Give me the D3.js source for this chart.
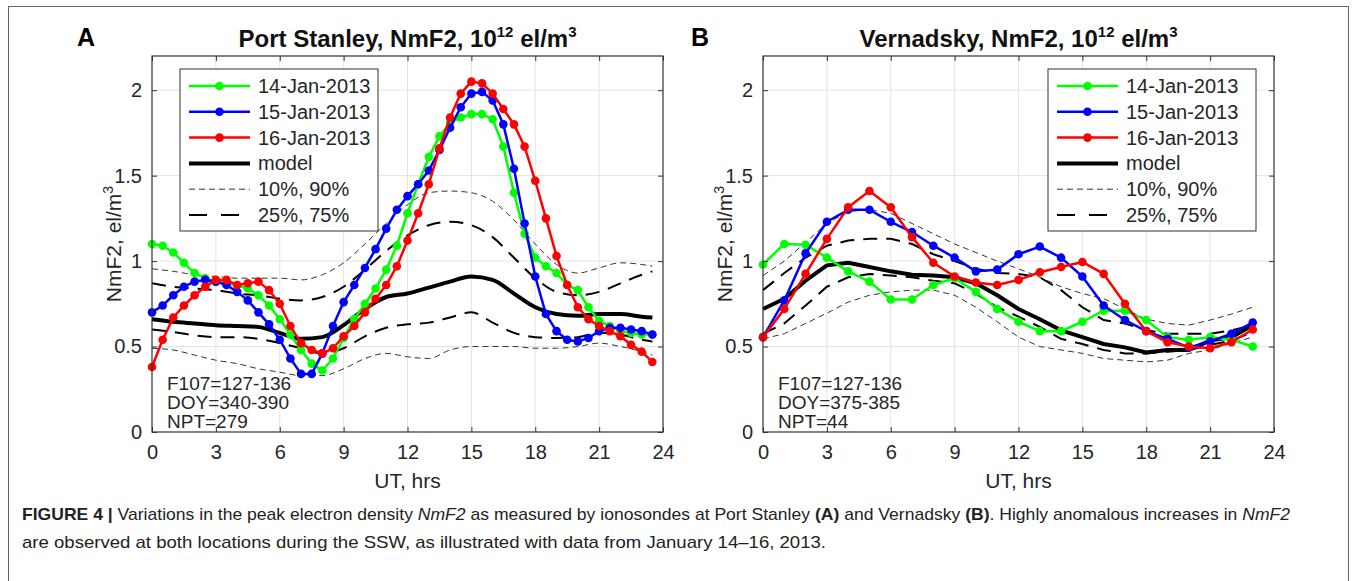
<!DOCTYPE html>
<html><head><meta charset="utf-8">
<script src="https://cdn.jsdelivr.net/npm/d3@7"></script>
<style>body{margin:0;background:#fff}svg{display:block}</style>
</head><body><svg id="c" width="1354" height="581"></svg>
<script>
// ---------------- DATA ----------------
const xTicks = [0,3,6,9,12,15,18,21,24];
const xTickLabels = ["0","3","6","9","12","15","18","21","24"];
const yTicks = [0,0.5,1,1.5,2];
const yTickLabels = ["0","0.5","1","1.5","2"];
const legendLabels = ["14-Jan-2013","15-Jan-2013","16-Jan-2013","model","10%, 90%","25%, 75%"];

// Port Stanley (A): half-hourly UT
const hoursA = [0,0.5,1,1.5,2,2.5,3,3.5,4,4.5,5,5.5,6,6.5,7,7.5,8,8.5,9,9.5,10,10.5,11,11.5,12,12.5,13,13.5,14,14.5,15,15.5,16,16.5,17,17.5,18,18.5,19,19.5,20,20.5,21,21.5,22,22.5,23,23.5];
const jan14A = [1.10,1.09,1.05,0.99,0.93,0.90,0.88,0.87,0.86,0.84,0.80,0.74,0.66,0.57,0.48,0.40,0.36,0.43,0.55,0.66,0.75,0.84,0.95,1.09,1.28,1.45,1.61,1.73,1.81,1.84,1.86,1.86,1.83,1.67,1.40,1.16,1.02,0.97,0.93,0.86,0.83,0.73,0.65,0.62,0.59,0.58,0.57,0.57];
const jan15A = [0.70,0.74,0.80,0.85,0.88,0.89,0.88,0.86,0.82,0.77,0.70,0.63,0.54,0.43,0.34,0.34,0.46,0.62,0.76,0.86,0.96,1.07,1.19,1.30,1.38,1.45,1.53,1.65,1.78,1.90,1.98,1.99,1.94,1.80,1.54,1.22,0.91,0.69,0.59,0.54,0.53,0.55,0.59,0.61,0.61,0.60,0.59,0.57];
const jan16A = [0.38,0.54,0.67,0.74,0.80,0.85,0.89,0.89,0.86,0.87,0.88,0.83,0.75,0.62,0.52,0.48,0.46,0.49,0.56,0.62,0.70,0.78,0.86,0.97,1.12,1.28,1.45,1.66,1.84,1.98,2.05,2.04,1.98,1.89,1.80,1.67,1.47,1.25,1.03,0.86,0.73,0.66,0.62,0.59,0.56,0.51,0.47,0.41];
// Port Stanley model & percentiles: hourly UT
const hoursModelA = [0,1,2,3,4,5,6,7,8,9,10,11,12,13,14,15,16,17,18,19,20,21,22,23,23.5];
const modelA = [0.66,0.645,0.635,0.625,0.62,0.615,0.58,0.545,0.555,0.625,0.72,0.79,0.81,0.845,0.88,0.91,0.89,0.81,0.73,0.69,0.68,0.69,0.69,0.675,0.67];
const p10A = [0.49,0.48,0.45,0.42,0.40,0.37,0.35,0.33,0.33,0.37,0.43,0.46,0.44,0.43,0.48,0.50,0.50,0.50,0.49,0.49,0.50,0.52,0.50,0.47,0.45];
const p90A = [0.955,0.94,0.92,0.91,0.90,0.90,0.90,0.89,0.92,0.99,1.10,1.22,1.33,1.40,1.41,1.40,1.35,1.24,1.10,0.98,0.93,0.96,0.99,0.98,0.97];
const p25A = [0.60,0.585,0.565,0.555,0.555,0.545,0.52,0.49,0.46,0.49,0.56,0.61,0.63,0.64,0.67,0.70,0.64,0.58,0.555,0.55,0.555,0.58,0.57,0.54,0.53];
const p75A = [0.87,0.85,0.84,0.83,0.81,0.80,0.78,0.77,0.79,0.85,0.95,1.06,1.15,1.21,1.23,1.21,1.14,1.02,0.90,0.82,0.80,0.82,0.87,0.92,0.94];

// Vernadsky (B): hourly UT
const hoursB = [0,1,2,3,4,5,6,7,8,9,10,11,12,13,14,15,16,17,18,19,20,21,22,23];
const jan14B = [0.98,1.10,1.095,1.02,0.94,0.88,0.775,0.775,0.86,0.90,0.82,0.72,0.645,0.59,0.59,0.645,0.71,0.71,0.655,0.555,0.54,0.555,0.54,0.50];
const jan15B = [0.555,0.77,1.045,1.23,1.30,1.30,1.23,1.17,1.09,1.02,0.94,0.95,1.04,1.085,1.02,0.91,0.74,0.655,0.59,0.545,0.495,0.53,0.575,0.64];
const jan16B = [0.555,0.72,0.925,1.13,1.315,1.41,1.315,1.14,0.99,0.91,0.875,0.86,0.89,0.935,0.965,0.995,0.925,0.75,0.59,0.525,0.50,0.49,0.525,0.60];
const modelB = [0.72,0.78,0.885,0.975,0.99,0.965,0.94,0.92,0.915,0.905,0.87,0.80,0.72,0.66,0.595,0.555,0.515,0.495,0.465,0.48,0.48,0.535,0.555,0.625];
const p10B = [0.545,0.575,0.635,0.695,0.76,0.80,0.82,0.83,0.83,0.80,0.73,0.645,0.555,0.50,0.48,0.46,0.43,0.42,0.41,0.42,0.46,0.48,0.52,0.555];
const p90B = [0.915,1.0,1.11,1.22,1.29,1.30,1.28,1.22,1.16,1.10,1.05,1.0,0.955,0.905,0.85,0.81,0.78,0.72,0.66,0.635,0.625,0.655,0.69,0.73];
const p25B = [0.575,0.635,0.74,0.85,0.905,0.925,0.915,0.905,0.885,0.87,0.81,0.73,0.675,0.615,0.545,0.515,0.48,0.46,0.46,0.47,0.48,0.51,0.535,0.585];
const p75B = [0.83,0.93,1.02,1.09,1.12,1.13,1.13,1.10,1.04,1.0,0.955,0.93,0.925,0.905,0.83,0.73,0.655,0.635,0.595,0.575,0.575,0.575,0.595,0.625];

const annotA = ["F107=127-136","DOY=340-390","NPT=279"];
const annotB = ["F107=127-136","DOY=375-385","NPT=44"];

// ---------------- DRAW ----------------
const svg = d3.select("#c");
const FONT = "'Liberation Sans', Arial, Helvetica, sans-serif";
const TXT = "#262626";
const dayColors = ["#00ff00","#0000ff","#ff0000"];

// figure frame
svg.append("rect").attr("x",8.5).attr("y",6.5).attr("width",1340).attr("height",600)
  .attr("fill","none").attr("stroke","#666").attr("stroke-width",1);

function zip(xs, ys){ return xs.map((x,i)=>({x:x, y:ys[i]})); }

function drawPanel(cfg){
  const x = d3.scaleLinear().domain([0,24]).range([cfg.left, cfg.right]);
  const y = d3.scaleLinear().domain([0,2.2]).range([cfg.bottom, cfg.top]);
  const g = svg.append("g");

  // grid
  g.append("g").selectAll("line").data(xTicks.slice(1,-1)).join("line")
    .attr("x1",d=>x(d)).attr("x2",d=>x(d)).attr("y1",cfg.top).attr("y2",cfg.bottom)
    .attr("stroke","#e3e3e3").attr("stroke-width",1);
  g.append("g").selectAll("line").data(yTicks.slice(1)).join("line")
    .attr("y1",d=>y(d)).attr("y2",d=>y(d)).attr("x1",cfg.left).attr("x2",cfg.right)
    .attr("stroke","#e3e3e3").attr("stroke-width",1);

  const smooth = d3.line().x(d=>x(d.x)).y(d=>y(d.y)).curve(cfg.curve);
  const straight = d3.line().x(d=>x(d.x)).y(d=>y(d.y));

  // percentiles
  [cfg.p10, cfg.p90].forEach(s=>{
    g.append("path").attr("d", smooth(zip(cfg.hoursModel, s))).attr("fill","none")
      .attr("stroke","#333").attr("stroke-width",1).attr("stroke-dasharray","6,4");
  });
  [cfg.p25, cfg.p75].forEach(s=>{
    g.append("path").attr("d", smooth(zip(cfg.hoursModel, s))).attr("fill","none")
      .attr("stroke","#000").attr("stroke-width",2).attr("stroke-dasharray","14,9");
  });
  // model
  g.append("path").attr("d", smooth(zip(cfg.hoursModel, cfg.model))).attr("fill","none")
    .attr("stroke","#000").attr("stroke-width",4).attr("stroke-linejoin","round");

  // day series
  cfg.days.forEach((s,i)=>{
    const pts = zip(cfg.hours, s);
    g.append("path").attr("d", straight(pts)).attr("fill","none")
      .attr("stroke",dayColors[i]).attr("stroke-width",2.5).attr("stroke-linejoin","round");
    g.append("g").selectAll("circle").data(pts).join("circle")
      .attr("cx",d=>x(d.x)).attr("cy",d=>y(d.y)).attr("r",4.3).attr("fill",dayColors[i]);
  });

  // axes
  const ax = g.append("g").attr("font-family",FONT);
  const bottomAxis = d3.axisBottom(x).tickValues(xTicks).tickFormat((d,i)=>xTickLabels[i]).tickSize(-5).tickPadding(13);
  const topAxis = d3.axisTop(x).tickValues(xTicks).tickFormat("").tickSize(-5);
  const leftAxis = d3.axisLeft(y).tickValues(yTicks).tickFormat((d,i)=>yTickLabels[i]).tickSize(-5).tickPadding(10);
  const rightAxis = d3.axisRight(y).tickValues(yTicks).tickFormat("").tickSize(-5);
  [ [bottomAxis,`translate(0,${cfg.bottom})`], [topAxis,`translate(0,${cfg.top})`],
    [leftAxis,`translate(${cfg.left},0)`], [rightAxis,`translate(${cfg.right},0)`] ].forEach(([a,t])=>{
    const s = ax.append("g").attr("transform",t).call(a);
    s.select(".domain").remove();
    s.selectAll(".tick line").attr("stroke","#333");
    s.selectAll(".tick text").attr("fill",TXT).attr("font-size",20).attr("font-family",FONT);
  });
  g.append("rect").attr("x",cfg.left).attr("y",cfg.top).attr("width",cfg.right-cfg.left)
    .attr("height",cfg.bottom-cfg.top).attr("fill","none").attr("stroke","#333").attr("stroke-width",1.2);

  // axis labels
  const cx = (cfg.left+cfg.right)/2;
  g.append("text").attr("x",cx).attr("y",cfg.bottom+56).attr("text-anchor","middle")
    .attr("font-family",FONT).attr("font-size",21).attr("fill",TXT).text("UT, hrs");
  const yl = g.append("text").attr("transform",`translate(${cfg.left-31},${(cfg.top+cfg.bottom)/2}) rotate(-90)`)
    .attr("text-anchor","middle").attr("font-family",FONT).attr("font-size",21).attr("fill",TXT);
  yl.append("tspan").text("NmF2, el/m");
  yl.append("tspan").attr("dy",-8).attr("font-size",14).text("3");

  // title
  const tt = g.append("text").attr("x",cx).attr("y",cfg.top-9).attr("text-anchor","middle")
    .attr("font-family",FONT).attr("font-size",24).attr("font-weight","bold").attr("fill","#111");
  tt.append("tspan").text(cfg.title);
  tt.append("tspan").attr("dy",-10).attr("font-size",15).text("12");
  tt.append("tspan").attr("dy",10).text(" el/m");
  tt.append("tspan").attr("dy",-10).attr("font-size",15).text("3");

  // panel letter
  g.append("text").attr("x",cfg.letterX).attr("y",46).attr("font-family",FONT)
    .attr("font-size",25).attr("font-weight","bold").attr("fill","#000").text(cfg.letter);

  // annotation
  cfg.annot.forEach((t,i)=>{
    g.append("text").attr("x",cfg.left+15).attr("y",cfg.bottom-42+i*19)
      .attr("font-family",FONT).attr("font-size",19).attr("fill",TXT).text(t);
  });

  // legend
  const lx = cfg.legendX, ly = cfg.top+13, lw = cfg.legendW, lh = 162;
  const lg = g.append("g");
  lg.append("rect").attr("x",lx).attr("y",ly).attr("width",lw).attr("height",lh)
    .attr("fill","#fff").attr("stroke","#333").attr("stroke-width",1);
  legendLabels.forEach((lab,i)=>{
    const ry = ly + 17 + i*25.8;
    const x1 = lx+9, x2 = lx+70;
    const ln = lg.append("line").attr("x1",x1).attr("x2",x2).attr("y1",ry).attr("y2",ry);
    if(i<3){
      ln.attr("stroke",dayColors[i]).attr("stroke-width",2.5);
      lg.append("circle").attr("cx",(x1+x2)/2).attr("cy",ry).attr("r",4.3).attr("fill",dayColors[i]);
    } else if(i===3){
      ln.attr("stroke","#000").attr("stroke-width",4);
    } else if(i===4){
      ln.attr("stroke","#333").attr("stroke-width",1).attr("stroke-dasharray","6,4");
    } else {
      ln.attr("stroke","#000").attr("stroke-width",2).attr("stroke-dasharray","18,14");
    }
    lg.append("text").attr("x",lx+78).attr("y",ry+7).attr("font-family",FONT)
      .attr("font-size",20).attr("fill",TXT).text(lab);
  });
}

drawPanel({left:152,right:663,top:56,bottom:432,title:"Port Stanley, NmF2, 10",letter:"A",letterX:77,
  hours:hoursA, days:[jan14A,jan15A,jan16A], hoursModel:hoursModelA, model:modelA,
  p10:p10A,p90:p90A,p25:p25A,p75:p75A, annot:annotA, legendX:180, legendW:198, curve:d3.curveMonotoneX});
drawPanel({left:763,right:1274,top:56,bottom:432,title:"Vernadsky, NmF2, 10",letter:"B",letterX:691,
  hours:hoursB, days:[jan14B,jan15B,jan16B], hoursModel:hoursB, model:modelB,
  p10:p10B,p90:p90B,p25:p25B,p75:p75B, annot:annotB, legendX:1048, legendW:208, curve:d3.curveLinear});

// caption
const cap1 = svg.append("text").attr("x",22).attr("y",520).attr("font-family",FONT).attr("font-size",17)
  .attr("fill","#222").attr("textLength",1268).attr("lengthAdjust","spacingAndGlyphs");
cap1.append("tspan").attr("font-weight","bold").text("FIGURE 4 | ");
cap1.append("tspan").text("Variations in the peak electron density ");
cap1.append("tspan").attr("font-style","italic").text("NmF2");
cap1.append("tspan").text(" as measured by ionosondes at Port Stanley ");
cap1.append("tspan").attr("font-weight","bold").text("(A)");
cap1.append("tspan").text(" and Vernadsky ");
cap1.append("tspan").attr("font-weight","bold").text("(B)");
cap1.append("tspan").text(". Highly anomalous increases in ");
cap1.append("tspan").attr("font-style","italic").text("NmF2");
svg.append("text").attr("x",22).attr("y",548).attr("font-family",FONT).attr("font-size",17)
  .attr("fill","#222").attr("textLength",804).attr("lengthAdjust","spacingAndGlyphs")
  .text("are observed at both locations during the SSW, as illustrated with data from January 14–16, 2013.");
</script></body></html>
